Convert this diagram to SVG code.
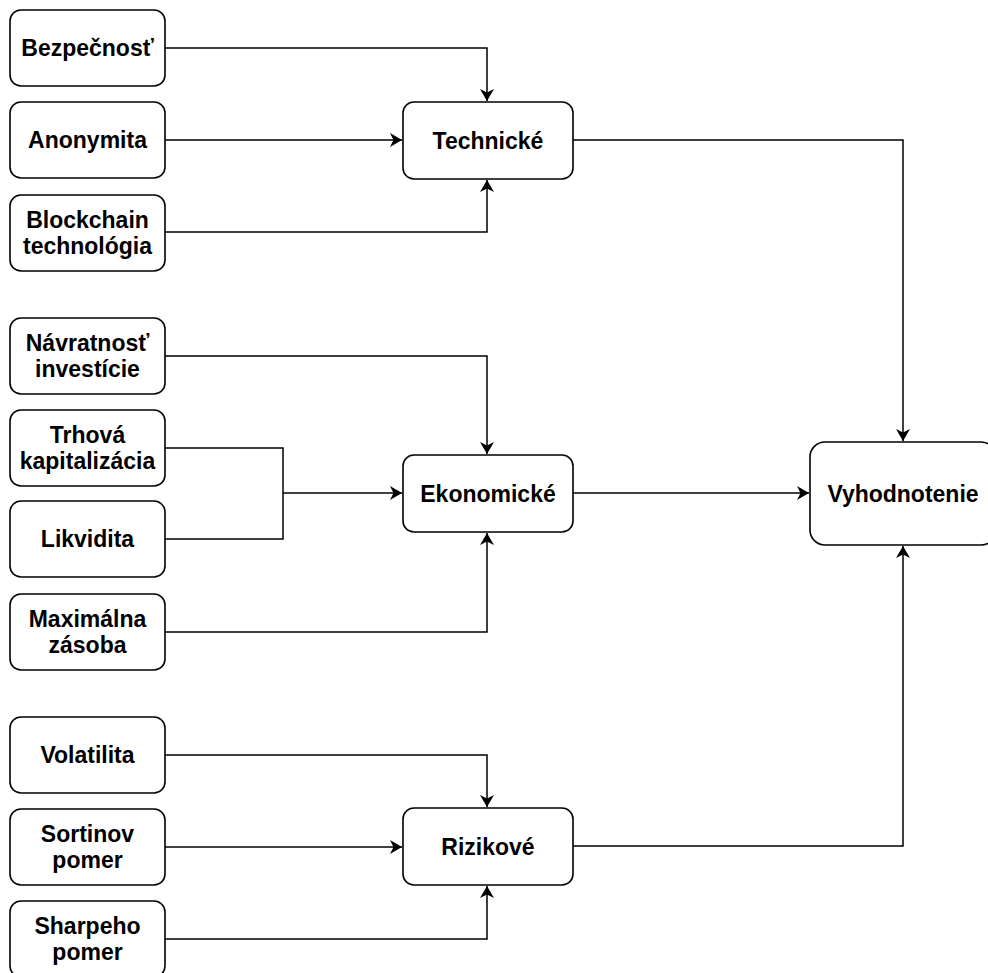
<svg xmlns="http://www.w3.org/2000/svg" width="988" height="973" viewBox="0 0 988 973">
<defs>
<style>
.box{fill:#fff;stroke:#000;stroke-width:1.6}
.t{font-family:"Liberation Sans",Arial,sans-serif;font-weight:bold;font-size:23px;fill:#000;text-anchor:middle}
.c{fill:none;stroke:#000;stroke-width:1.5;marker-end:url(#arr)}
.n{fill:none;stroke:#000;stroke-width:1.5}
</style>
<marker id="arr" markerUnits="userSpaceOnUse" markerWidth="14" markerHeight="14" refX="12" refY="7" orient="auto">
<path d="M0,0 L12,7 L0,14 L3.5,7 Z" fill="#000"/>
</marker>
</defs>
<rect width="988" height="973" fill="#fff"/>
<g id="connectors">
<path class="c" d="M165,48 H487 V101"/>
<path class="c" d="M165,140 H402"/>
<path class="c" d="M165,232 H487 V180"/>
<path class="c" d="M573,140 H903 V441"/>
<path class="c" d="M165,356 H487 V454"/>
<path class="n" d="M165,448 H283 V539 H165"/>
<path class="c" d="M283,493 H402"/>
<path class="c" d="M165,632 H487 V533"/>
<path class="c" d="M573,493 H809"/>
<path class="c" d="M165,755 H487 V807"/>
<path class="c" d="M165,847 H402"/>
<path class="c" d="M165,939 H487 V886"/>
<path class="c" d="M573,846 H903 V546"/>
</g>
<g id="bezpecnost"><rect class="box" x="10" y="10" width="155" height="76" rx="11"/><text class="t" x="87.5" y="56">Bezpečnosť</text></g>
<g id="anonymita"><rect class="box" x="10" y="102" width="155" height="76" rx="11"/><text class="t" x="87.5" y="148">Anonymita</text></g>
<g id="blockchain"><rect class="box" x="10" y="195" width="155" height="76" rx="11"/><text class="t" x="87.5" y="228">Blockchain</text><text class="t" x="87.5" y="254">technológia</text></g>
<g id="navratnost"><rect class="box" x="10" y="318" width="155" height="76" rx="11"/><text class="t" x="87.5" y="351">Návratnosť</text><text class="t" x="87.5" y="377">investície</text></g>
<g id="trhova"><rect class="box" x="10" y="410" width="155" height="76" rx="11"/><text class="t" x="87.5" y="443">Trhová</text><text class="t" x="87.5" y="469">kapitalizácia</text></g>
<g id="likvidita"><rect class="box" x="10" y="501" width="155" height="76" rx="11"/><text class="t" x="87.5" y="547">Likvidita</text></g>
<g id="maximalna"><rect class="box" x="10" y="594" width="155" height="76" rx="11"/><text class="t" x="87.5" y="627">Maximálna</text><text class="t" x="87.5" y="653">zásoba</text></g>
<g id="volatilita"><rect class="box" x="10" y="717" width="155" height="76" rx="11"/><text class="t" x="87.5" y="763">Volatilita</text></g>
<g id="sortinov"><rect class="box" x="10" y="809" width="155" height="76" rx="11"/><text class="t" x="87.5" y="842">Sortinov</text><text class="t" x="87.5" y="868">pomer</text></g>
<g id="sharpeho"><rect class="box" x="10" y="901" width="155" height="76" rx="11"/><text class="t" x="87.5" y="934">Sharpeho</text><text class="t" x="87.5" y="960">pomer</text></g>
<g id="technicke"><rect class="box" x="403" y="102" width="170" height="77" rx="11"/><text class="t" x="488" y="148.5">Technické</text></g>
<g id="ekonomicke"><rect class="box" x="403" y="455" width="170" height="77" rx="11"/><text class="t" x="488" y="501.5">Ekonomické</text></g>
<g id="rizikove"><rect class="box" x="403" y="808" width="170" height="77" rx="11"/><text class="t" x="488" y="854.5">Rizikové</text></g>
<g id="vyhodnotenie"><rect class="box" x="810" y="442" width="186" height="103" rx="15"/><text class="t" x="903" y="501.5">Vyhodnotenie</text></g>
</svg>
